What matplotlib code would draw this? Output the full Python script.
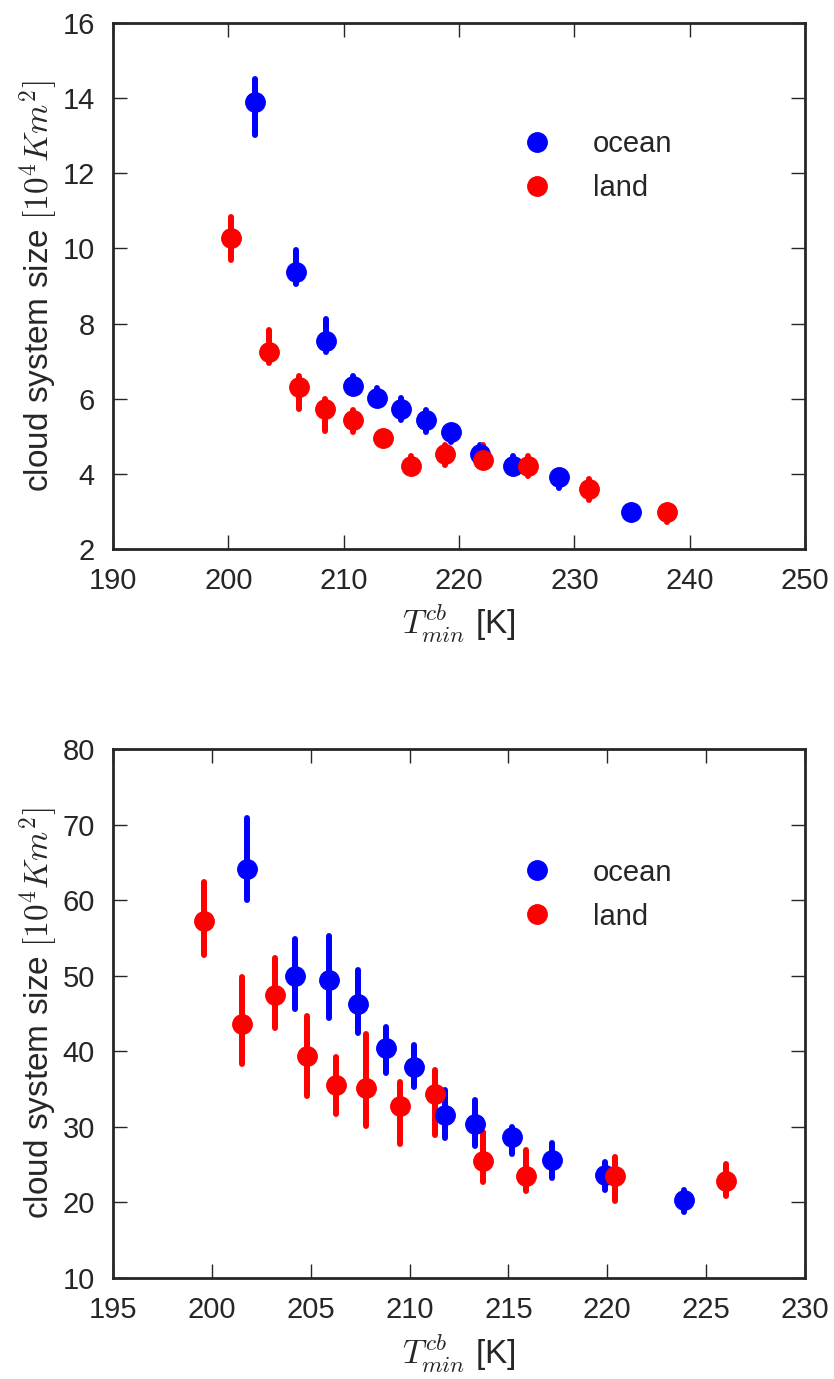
import matplotlib.pyplot as plt
from matplotlib.lines import Line2D

plt.rcParams["font.family"] = ["Liberation Sans", "DejaVu Sans"]
plt.rcParams["mathtext.fontset"] = "cm"
plt.rcParams["font.size"] = 21
plt.rcParams["text.color"] = "#262626"
plt.rcParams["axes.labelcolor"] = "#262626"
plt.rcParams["xtick.color"] = "#262626"
plt.rcParams["ytick.color"] = "#262626"
plt.rcParams["axes.edgecolor"] = "#262626"

# --- mean cloud system size per T_min bin (top: one definition, bottom: another)
top_ocean_t = [202.3, 205.9, 208.5, 210.8, 212.9, 215.0, 217.1, 219.3, 221.8, 224.7, 228.7, 234.9]
top_ocean_s = [13.9, 9.36, 7.54, 6.34, 6.03, 5.72, 5.42, 5.12, 4.53, 4.21, 3.91, 2.99]
top_ocean_lo = [0.89, 0.30, 0.30, 0.10, 0.10, 0.29, 0.31, 0.27, 0.10, 0.10, 0.29, 0.05]
top_ocean_hi = [0.62, 0.59, 0.58, 0.26, 0.25, 0.30, 0.29, 0.10, 0.25, 0.27, 0.10, 0.05]

top_land_t = [200.2, 203.5, 206.1, 208.4, 210.8, 213.4, 215.8, 218.8, 222.1, 226.0, 231.3, 238.0]
top_land_s = [10.27, 7.23, 6.32, 5.72, 5.42, 4.96, 4.21, 4.52, 4.37, 4.21, 3.60, 2.99]
top_land_lo = [0.59, 0.28, 0.59, 0.58, 0.31, 0.05, 0.10, 0.29, 0.14, 0.27, 0.29, 0.27]
top_land_hi = [0.58, 0.59, 0.29, 0.27, 0.29, 0.05, 0.27, 0.26, 0.41, 0.27, 0.26, 0.05]

bot_ocean_t = [201.8, 204.2, 205.9, 207.4, 208.8, 210.2, 211.8, 213.3, 215.2, 217.2, 219.9, 223.9]
bot_ocean_s = [64.1, 50.0, 49.5, 46.2, 40.5, 37.9, 31.6, 30.4, 28.7, 25.6, 23.7, 20.3]
bot_ocean_lo = [4.1, 4.4, 5.1, 3.8, 3.3, 2.6, 3.1, 2.9, 2.3, 2.3, 2.0, 1.6]
bot_ocean_hi = [6.8, 4.9, 5.7, 4.5, 2.7, 2.9, 3.3, 3.2, 1.3, 2.3, 1.6, 1.4]

bot_land_t = [199.6, 201.5, 203.2, 204.8, 206.3, 207.8, 209.5, 211.3, 213.7, 215.9, 220.4, 226.0]
bot_land_s = [57.2, 43.6, 47.5, 39.4, 35.5, 35.2, 32.8, 34.4, 25.5, 23.5, 23.5, 22.9]
bot_land_lo = [4.5, 5.3, 4.4, 5.3, 3.8, 5.1, 5.0, 5.5, 2.8, 2.0, 3.3, 2.1]
bot_land_hi = [5.2, 6.2, 4.9, 5.3, 3.8, 7.1, 3.2, 3.1, 3.8, 3.4, 2.5, 2.2]


def draw(ax, ocean, land, xlim, ylim, xticks, yticks, leg_y):
    for (t, s, lo, hi), col in ((ocean, "blue"), (land, "red")):
        eb = ax.errorbar(t, s, yerr=[lo, hi], fmt="o", color=col, ms=14,
                         mec=col, elinewidth=4.3, capsize=0)
        for c in eb[2]:
            c.set_capstyle("round")
    ax.set_xlim(*xlim)
    ax.set_ylim(*ylim)
    ax.set_xticks(xticks)
    ax.set_yticks(yticks)
    ax.tick_params(direction="in", length=10, width=1, top=True, right=True,
                   labelsize=21, pad=13)
    for sp in ax.spines.values():
        sp.set_linewidth(2)
    ax.set_xlabel(r"$T_{min}^{cb}$ [K]", fontsize=24, labelpad=6)
    ax.set_ylabel(r"cloud system size $[10^4 Km^2]$", fontsize=24, labelpad=2)
    handles = [Line2D([], [], ls="", marker="o", ms=14, color="blue"),
               Line2D([], [], ls="", marker="o", ms=14, color="red")]
    ax.legend(handles, ["ocean", "land"], loc="upper left",
              bbox_to_anchor=(0.592, leg_y), frameon=False, borderpad=0,
              borderaxespad=0, handlelength=1.0, handletextpad=1.4,
              labelspacing=0.55, fontsize=21)


fig = plt.figure(figsize=(8.34, 13.79), dpi=100)
ax1 = fig.add_axes([0.1355, 0.6019, 0.8297, 0.3814])
ax2 = fig.add_axes([0.1355, 0.0732, 0.8297, 0.3836])

draw(ax1, (top_ocean_t, top_ocean_s, top_ocean_lo, top_ocean_hi),
     (top_land_t, top_land_s, top_land_lo, top_land_hi),
     (190, 250), (2, 16), range(190, 251, 10), range(2, 17, 2), 0.797)
draw(ax2, (bot_ocean_t, bot_ocean_s, bot_ocean_lo, bot_ocean_hi),
     (bot_land_t, bot_land_s, bot_land_lo, bot_land_hi),
     (195, 230), (10, 80), range(195, 231, 5), range(10, 81, 10), 0.793)

fig.savefig("out.png", dpi=100)
